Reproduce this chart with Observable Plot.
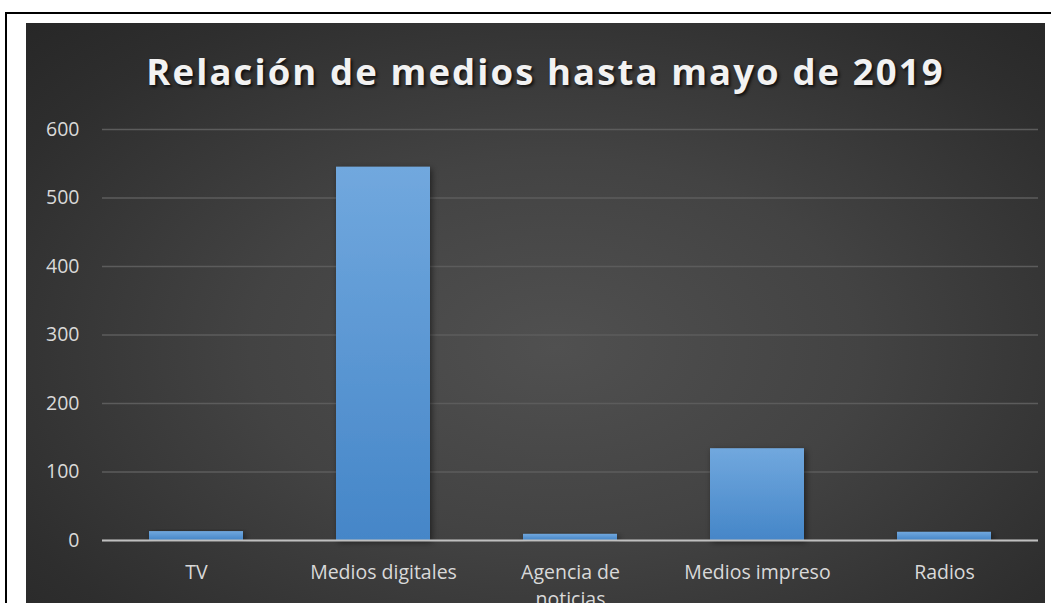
<!DOCTYPE html>
<html>
<head>
<meta charset="utf-8">
<script src="https://cdn.jsdelivr.net/npm/d3@7"></script>
<script src="https://cdn.jsdelivr.net/npm/@observablehq/plot@0.6"></script>
<style>
  html, body { margin: 0; padding: 0; background: #fff; width: 1051px; height: 603px; overflow: hidden; }
  #frameTop { position: absolute; left: 5px; top: 12px; width: 1046px; height: 2px; background: #000; }
  #frameLeft { position: absolute; left: 5px; top: 12px; width: 2px; height: 600px; background: #000; }
  #panel { position: absolute; left: 26px; top: 23px; width: 1019px; height: 590px;
    background: radial-gradient(ellipse 75% 80% at 52% 55%, #505050 0%, #434343 40%, #2e2e2e 80%, #262626 100%);
    overflow: hidden; }
  #title { position: absolute; left: 0; top: 23px; width: 1039px; text-align: center;
    font-family: "Open Sans", sans-serif; font-weight: 700; font-size: 36.5px; letter-spacing: 2.1px;
    color: #f2f2f2; text-shadow: 2px 2px 3px rgba(0,0,0,0.7); }
  #chart { position: absolute; left: 0; top: 0; }
  #chart g[aria-label="x-axis tick label"] text, #chart g[aria-label="y-axis tick label"] text { font-size: 19.5px; }
</style>
</head>
<body>
<div id="frameTop"></div>
<div id="frameLeft"></div>
<div id="panel">
  <div id="chart"></div>
  <div id="title">Relación de medios hasta mayo de 2019</div>
</div>
<script>
const categories = ["TV", "Medios digitales", "Agencia de noticias", "Medios impreso", "Radios"];
const values = [13, 545, 9, 134, 12];
const tickLabels = {"Agencia de noticias": "Agencia de\nnoticias"};
const yTicks = [0, 100, 200, 300, 400, 500, 600];

const data = categories.map((c, i) => ({category: c, value: values[i]}));

const chart = Plot.plot({
  width: 1019,
  height: 590,
  marginTop: 106,
  marginBottom: 73,
  marginLeft: 76,
  marginRight: 7,
  style: {background: "transparent", fontFamily: "'Open Sans', sans-serif", fontSize: "19.5px", color: "#d9d9d9", overflow: "visible"},
  x: {domain: categories, paddingInner: 0.5, paddingOuter: 0.25, label: null},
  y: {domain: [0, 600], label: null},
  marks: [
    Plot.gridY(yTicks, {stroke: "#5c5c5c", strokeOpacity: 1, strokeWidth: 1.5}),
    Plot.barY(data, {x: "category", y: "value", fill: "url(#barGrad)"}),
    Plot.ruleY([0], {stroke: "#bfbfbf", strokeWidth: 2}),
    Plot.axisY(yTicks, {tickSize: 0, tickPadding: 23, fill: "#d9d9d9", fontSize: 19.5}),
    Plot.axisX({tickSize: 0, tickPadding: 20, fill: "#d9d9d9", fontSize: 19.5, lineHeight: 1.35, tickFormat: d => tickLabels[d] || d})
  ]
});

const svgNS = "http://www.w3.org/2000/svg";
const defs = document.createElementNS(svgNS, "defs");
defs.innerHTML = `
  <linearGradient id="barGrad" x1="0" y1="0" x2="0" y2="1">
    <stop offset="0%" stop-color="#71a8de"/>
    <stop offset="100%" stop-color="#4586c8"/>
  </linearGradient>
  <filter id="shadow" x="-20%" y="-20%" width="140%" height="140%">
    <feDropShadow dx="2" dy="2" stdDeviation="3" flood-color="#000" flood-opacity="0.5"/>
  </filter>`;
chart.insertBefore(defs, chart.firstChild);
chart.querySelectorAll("rect").forEach(r => r.setAttribute("filter", "url(#shadow)"));
document.getElementById("chart").appendChild(chart);
</script>
</body>
</html>
